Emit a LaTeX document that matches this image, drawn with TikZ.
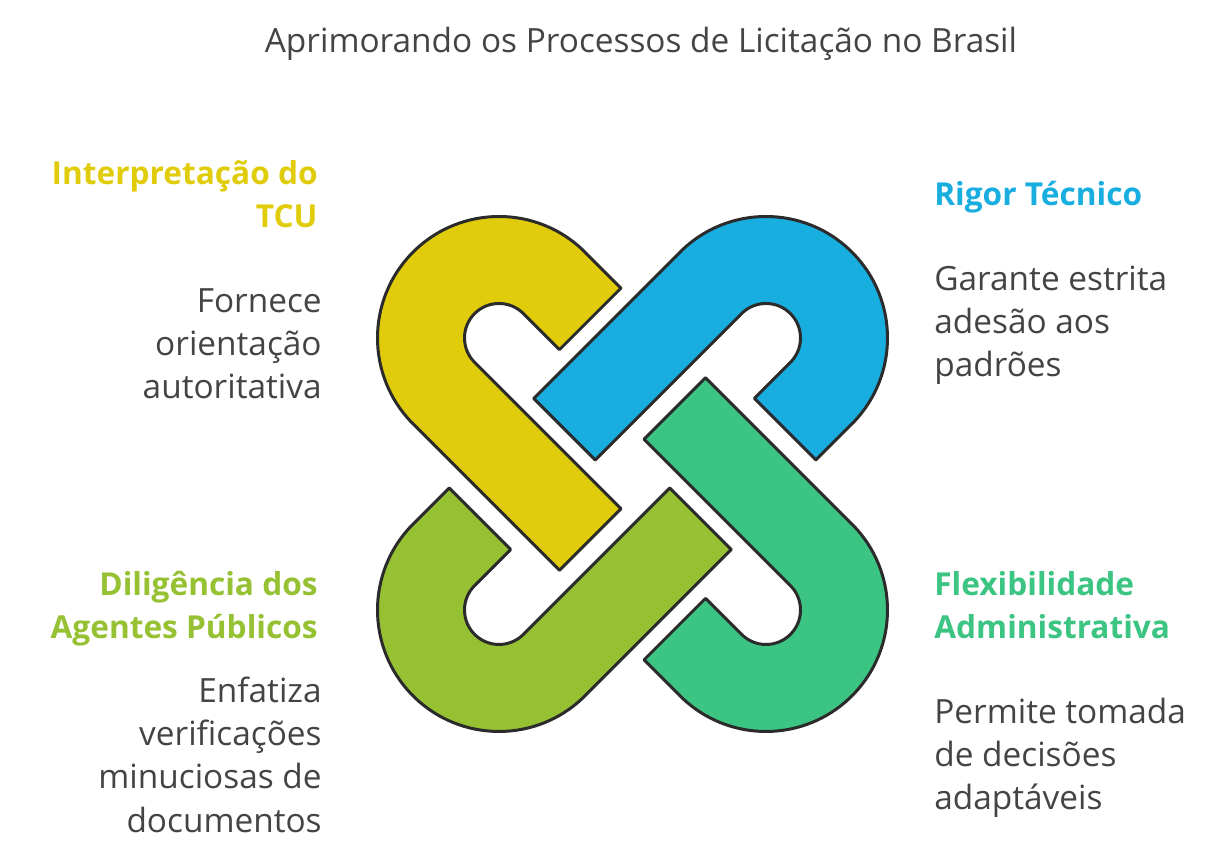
\documentclass[tikz,border=0pt]{standalone}
\usepackage{fontspec}
\setmainfont{Open Sans}
\definecolor{linecol}{HTML}{2B2B2B}
\definecolor{textcol}{HTML}{444444}
\definecolor{tcuyellow}{HTML}{E0CC0A}
\definecolor{rigorblue}{HTML}{19AEE0}
\definecolor{flexgreen}{HTML}{3CC482}
\definecolor{agentolive}{HTML}{95C133}
\tikzset{
  hook/.style={draw=linecol, line width=1.7pt, line join=round},
  heading/.style={font=\fontsize{18}{24.5}\selectfont\bfseries, inner sep=0pt},
  body/.style={font=\fontsize{19}{24.5}\selectfont, text=textcol, inner sep=0pt},
}
\newcommand{\hookpath}{(51,121.5) -- (0,121.5) arc (90:270:121.5) -- (207,-121.5)
  -- (207,-34.5) -- (0,-34.5) arc (270:90:34.5) -- (51,34.5) -- cycle}
\begin{document}
\begin{tikzpicture}[x=0.02cm, y=0.02cm]
  \useasboundingbox (0,0) rectangle (1232,864);
  % the four interlocked hooks
  \draw[hook, fill=tcuyellow, shift={(499,526)}, rotate=-45] \hookpath;
  \draw[hook, fill=rigorblue, shift={(766,526)}, rotate=-135] \hookpath;
  \draw[hook, fill=flexgreen, shift={(766,254)}, rotate=135] \hookpath;
  \draw[hook, fill=agentolive, shift={(499,254)}, rotate=45] \hookpath;

  \node (title) [body, anchor=center] at (641,820) {Aprimorando os Processos de Licitação no Brasil};

  \node (tcuhead) [heading, text=tcuyellow, anchor=north east, align=right] at (318,704)
    {Interpretação do\\TCU};
  \node (tcubody) [body, anchor=north east, align=right] at (322,576)
    {Fornece\\orientação\\autoritativa};

  \node (rigorhead) [heading, text=rigorblue, anchor=north west, align=left] at (934,683)
    {Rigor Técnico};
  \node (rigorbody) [body, anchor=north west, align=left] at (934,598)
    {Garante estrita\\adesão aos\\padrões};

  \node (agenthead) [heading, text=agentolive, anchor=north east, align=right] at (318,293)
    {Diligência dos\\Agentes Públicos};
  \node (agentbody) [body, anchor=north east, align=right] at (322,187)
    {Enfatiza\\verificações\\minuciosas de\\documentos};

  \node (flexhead) [heading, text=flexgreen, anchor=north west, align=left] at (934,293)
    {Flexibilidade\\Administrativa};
  \node (flexbody) [body, anchor=north west, align=left] at (934,166)
    {Permite tomada\\de decisões\\adaptáveis};
\end{tikzpicture}
\end{document}
